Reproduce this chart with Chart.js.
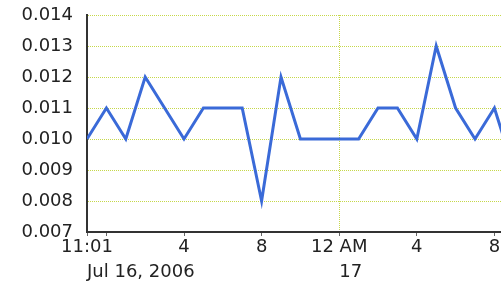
<!DOCTYPE html>
<html>
<head>
<meta charset="utf-8">
<script src="https://cdn.jsdelivr.net/npm/chart.js@4/dist/chart.umd.min.js"></script>
<style>
  html, body { margin: 0; padding: 0; background: #fff; overflow: hidden; }
  #chart { display: block; }
</style>
</head>
<body>
<canvas id="chart" width="501" height="285"></canvas>
<script>
// hours since midnight Jul 16, 2006 (one sample per hour)
const hours = [11, 12, 13, 14, 15, 16, 17, 18, 19, 20, 21, 22, 23, 24, 25, 26, 27, 28, 29, 30, 31, 32, 33];
const values = [0.010, 0.011, 0.010, 0.012, 0.011, 0.010, 0.011, 0.011, 0.011, 0.008, 0.012, 0.010,
                0.010, 0.010, 0.010, 0.011, 0.011, 0.010, 0.013, 0.011, 0.010, 0.011, 0.009];

// x axis ticks and their labels ('' = tick mark only)
const tickHours = [11, 12, 16, 20, 24, 28, 32];
const tickLabels = ['11:01', '', '4', '8', '12 AM', '4', '8'];
// second row (date) labels, left aligned on their tick
const dateHours = [11, 24];
const dateLabels = ['Jul 16, 2006', '17'];

const FONT = 'DejaVu Sans';
const FONT_SIZE = 18;
const gridColor = '#c6d84a';

const dateRow = {
    id: 'dateRow',
    afterDraw(chart) {
        const ctx = chart.ctx;
        const xs = chart.scales.x;
        ctx.save();
        ctx.font = FONT_SIZE + 'px "' + FONT + '"';
        ctx.fillStyle = '#222';
        ctx.textAlign = 'left';
        ctx.textBaseline = 'middle';
        dateHours.forEach((h, i) => {
            ctx.fillText(dateLabels[i], xs.getPixelForValue(h), 272);
        });
        ctx.restore();
    }
};

new Chart(document.getElementById('chart'), {
    type: 'line',
    data: {
        datasets: [{
            data: hours.map((h, i) => ({ x: h, y: values[i] })),
            borderColor: '#3a6ad8',
            borderWidth: 3,
            pointRadius: 0,
            tension: 0,
            fill: false
        }]
    },
    options: {
        responsive: false,
        animation: false,
        layout: { padding: { top: 15, right: 0, left: 0, bottom: 0 } },
        plugins: {
            legend: { display: false },
            tooltip: { enabled: false }
        },
        scales: {
            x: {
                type: 'linear',
                min: 11,
                max: 32.34,
                afterBuildTicks: (scale) => {
                    scale.ticks = tickHours.map(v => ({ value: v }));
                },
                afterFit: (scale) => {
                    scale.height = 53;
                    scale.paddingLeft = 0;
                    scale.paddingRight = 0;
                },
                ticks: {
                    autoSkip: false,
                    maxRotation: 0,
                    padding: 1,
                    color: '#222',
                    font: { family: FONT, size: FONT_SIZE },
                    callback: (v) => {
                        const i = tickHours.indexOf(v);
                        return i >= 0 ? tickLabels[i] : '';
                    }
                },
                grid: {
                    color: (c) => (c.tick && c.tick.value === 24) ? gridColor : 'rgba(0,0,0,0)',
                    tickColor: '#666',
                    tickLength: 4,
                    tickWidth: 1
                },
                border: { display: true, color: '#333', width: 2, dash: [1, 1] }
            },
            y: {
                min: 0.007,
                max: 0.014,
                afterFit: (scale) => {
                    scale.width = 87;
                    scale.paddingTop = 0;
                    scale.paddingBottom = 0;
                },
                ticks: {
                    stepSize: 0.001,
                    padding: 14,
                    color: '#222',
                    font: { family: FONT, size: FONT_SIZE },
                    callback: (v) => v.toFixed(3)
                },
                grid: {
                    color: gridColor,
                    drawTicks: false
                },
                border: { display: true, color: '#333', width: 2, dash: [1, 1] }
            }
        }
    },
    plugins: [dateRow]
});
</script>
</body>
</html>
